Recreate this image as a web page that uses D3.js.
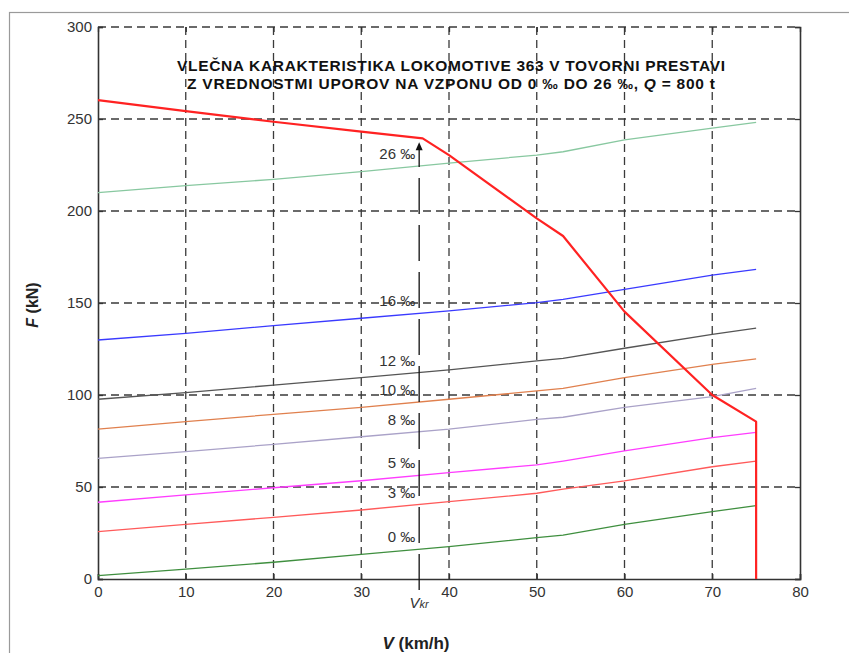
<!DOCTYPE html>
<html>
<head>
<meta charset="utf-8">
<script src="https://cdn.jsdelivr.net/npm/d3@7"></script>
<style>
  body { margin: 0; background: #fff; }
  text { font-family: "Liberation Sans", Arial, sans-serif; }
</style>
</head>
<body>
<div id="chart"></div>
<script>
// Chart data
var speeds = [0, 10, 20, 30, 40, 50, 53, 60, 70, 75];
var gradeLabels = ["0 ‰", "3 ‰", "5 ‰", "8 ‰", "10 ‰", "12 ‰", "16 ‰", "26 ‰"];
var res0 = [1.8, 5.4, 9.1, 13.4, 17.6, 22.5, 23.9, 29.7, 36.6, 39.9];
var res3 = [25.7, 29.7, 33.5, 37.5, 42, 46.6, 48.8, 53.3, 61, 64.1];
var res5 = [41.7, 45.7, 49.6, 53.4, 57.8, 62, 64.1, 69.6, 76.8, 79.7];
var res8 = [65.6, 69.2, 73.2, 77.3, 81.4, 86.8, 87.9, 93.3, 99.1, 103.6];
var res10 = [81.4, 85.5, 89.5, 93.3, 97.7, 102.2, 103.6, 109.4, 116.7, 119.6];
var res12 = [97.7, 101.3, 105.4, 109.4, 113.6, 118.5, 119.9, 125.4, 133, 136.3];
var res16 = [129.9, 133.5, 137.7, 141.7, 145.7, 150.2, 152, 157.4, 165.2, 168.3];
var res26 = [210, 213.8, 217.2, 221.4, 226, 230.4, 232.2, 238.6, 245, 248.2];
var resColors = ["#3f8f3f", "#ff5a5a", "#ff3cff", "#aaa2c8", "#e0804e", "#555555", "#3a3aff", "#88c8a0"];

// traction force curve
var tractionV = [0, 10, 20, 30, 37, 40, 50, 53, 60, 70, 75, 75];
var tractionF = [260.3, 254.3, 248.5, 243.1, 239.5, 230.4, 196, 186.4, 145.3, 100, 85.5, 0];

var vKr = 36.6;
var xTicks = [0, 10, 20, 30, 40, 50, 60, 70, 80];
var yTicks = [0, 50, 100, 150, 200, 250, 300];

// SVG area
var svgWidth = 849;
var svgHeight = 653;
var margin = { top: 27, right: 49, bottom: 74, left: 98 };
var chartWidth = svgWidth - margin.left - margin.right;
var chartHeight = svgHeight - margin.top - margin.bottom;

var svg = d3.select("#chart")
  .append("svg")
  .attr("width", svgWidth)
  .attr("height", svgHeight);

// outer page frame
svg.append("rect")
  .attr("x", 9.5).attr("y", 12.5)
  .attr("width", 900).attr("height", 700)
  .attr("fill", "none")
  .attr("stroke", "#9a9a9a")
  .attr("stroke-width", 1.2);

var chartGroup = svg.append("g")
  .attr("transform", `translate(${margin.left}, ${margin.top})`);

var xScale = d3.scaleLinear().domain([0, 80]).range([0, chartWidth]);
var yScale = d3.scaleLinear().domain([0, 300]).range([chartHeight, 0]);

// dashed grid
chartGroup.append("g").selectAll("line")
  .data(xTicks.slice(1, -1))
  .enter().append("line")
  .attr("x1", d => xScale(d)).attr("x2", d => xScale(d))
  .attr("y1", 0).attr("y2", chartHeight)
  .attr("stroke", "#3a3a3a").attr("stroke-width", 1.3)
  .attr("stroke-dasharray", "8,5");

chartGroup.append("g").selectAll("line")
  .data(yTicks.slice(1))
  .enter().append("line")
  .attr("x1", 0).attr("x2", chartWidth)
  .attr("y1", d => yScale(d)).attr("y2", d => yScale(d))
  .attr("stroke", "#3a3a3a").attr("stroke-width", 1.3)
  .attr("stroke-dasharray", "8,5");

// axes with inward ticks
var bottomAxis = d3.axisBottom(xScale).tickValues(xTicks).tickSize(-5).tickPadding(7);
var leftAxis = d3.axisLeft(yScale).tickValues(yTicks).tickSize(-5).tickPadding(6);
var topAxis = d3.axisTop(xScale).tickValues(xTicks).tickSize(-5).tickFormat("");
var rightAxis = d3.axisRight(yScale).tickValues(yTicks).tickSize(-5).tickFormat("");

var xAxis = chartGroup.append("g")
  .attr("transform", `translate(0, ${chartHeight})`)
  .call(bottomAxis);
var yAxis = chartGroup.append("g").call(leftAxis);
var tAxis = chartGroup.append("g").call(topAxis);
var rAxis = chartGroup.append("g")
  .attr("transform", `translate(${chartWidth}, 0)`)
  .call(rightAxis);

tAxis.select(".domain").remove();
[xAxis, yAxis, tAxis, rAxis].forEach(function(ax) {
  ax.selectAll(".domain").attr("stroke", "#333").attr("stroke-width", 1.6);
  ax.selectAll(".tick line").attr("stroke", "#333").attr("stroke-width", 1.3);
  ax.selectAll("text")
    .attr("fill", "#333")
    .style("font-size", "15px");
});

// resistance lines
var resSeries = [res0, res3, res5, res8, res10, res12, res16, res26];
var line = d3.line()
  .x((d, i) => xScale(speeds[i]))
  .y(d => yScale(d));

chartGroup.append("g").selectAll("path")
  .data(resSeries)
  .enter().append("path")
  .attr("d", d => line(d))
  .attr("fill", "none")
  .attr("stroke", (d, i) => resColors[i])
  .attr("stroke-width", 1.3);

// traction force
var tractionLine = d3.line()
  .x((d, i) => xScale(tractionV[i]))
  .y(d => yScale(d));

chartGroup.append("path")
  .attr("d", tractionLine(tractionF))
  .attr("fill", "none")
  .attr("stroke", "#ff2222")
  .attr("stroke-width", 2.2)
  .attr("stroke-linejoin", "round");

// critical speed marker
var arrowTop = yScale(tractionF[4]) + 4;
chartGroup.append("line")
  .attr("x1", xScale(vKr)).attr("x2", xScale(vKr))
  .attr("y1", chartHeight + 11).attr("y2", arrowTop + 6)
  .attr("stroke", "#111")
  .attr("stroke-width", 1.3)
  .attr("stroke-dasharray", "36,11");

chartGroup.append("path")
  .attr("d", `M${xScale(vKr)},${arrowTop} l-3.5,8 l7,0 z`)
  .attr("fill", "#111");

// grade labels at the critical speed
function valueAt(series, v) {
  var i = d3.bisectRight(speeds, v) - 1;
  var t = (v - speeds[i]) / (speeds[i + 1] - speeds[i]);
  return series[i] + t * (series[i + 1] - series[i]);
}

chartGroup.append("g").selectAll("text")
  .data(resSeries)
  .enter().append("text")
  .attr("x", xScale(vKr) - 4)
  .attr("y", d => yScale(valueAt(d, vKr)) - 7)
  .attr("text-anchor", "end")
  .attr("fill", "#333")
  .style("font-size", "15px")
  .text((d, i) => gradeLabels[i]);

// V kr label
var vkrText = chartGroup.append("text")
  .attr("x", xScale(vKr))
  .attr("y", chartHeight + 29)
  .attr("text-anchor", "middle")
  .attr("fill", "#333")
  .style("font-size", "15px")
  .style("font-style", "italic");
vkrText.append("tspan").text("V");
vkrText.append("tspan").style("font-size", "11px").text("kr");

// title
var title1 = svg.append("text")
  .attr("x", 451).attr("y", 71)
  .attr("text-anchor", "middle")
  .attr("fill", "#111")
  .attr("textLength", 548)
  .attr("lengthAdjust", "spacing")
  .style("font-size", "15.5px")
  .style("font-weight", "bold")
  .text("VLEČNA KARAKTERISTIKA LOKOMOTIVE 363 V TOVORNI PRESTAVI");

var title2 = svg.append("text")
  .attr("x", 451).attr("y", 89)
  .attr("text-anchor", "middle")
  .attr("fill", "#111")
  .attr("textLength", 528)
  .attr("lengthAdjust", "spacing")
  .style("font-size", "15.5px")
  .style("font-weight", "bold");
title2.append("tspan").text("Z VREDNOSTMI UPOROV NA VZPONU OD 0 ‰ DO 26 ‰, ");
title2.append("tspan").style("font-style", "italic").text("Q");
title2.append("tspan").text(" = 800 t");

// axis titles
var yTitle = svg.append("text")
  .attr("transform", "translate(38, 305) rotate(-90)")
  .attr("text-anchor", "middle")
  .attr("fill", "#222")
  .style("font-size", "16px")
  .style("font-weight", "bold");
yTitle.append("tspan").style("font-style", "italic").text("F");
yTitle.append("tspan").text(" (kN)");

var xTitle = svg.append("text")
  .attr("x", 416).attr("y", 649)
  .attr("text-anchor", "middle")
  .attr("fill", "#222")
  .style("font-size", "17px")
  .style("font-weight", "bold");
xTitle.append("tspan").style("font-style", "italic").text("V");
xTitle.append("tspan").text(" (km/h)");
</script>
</body>
</html>
